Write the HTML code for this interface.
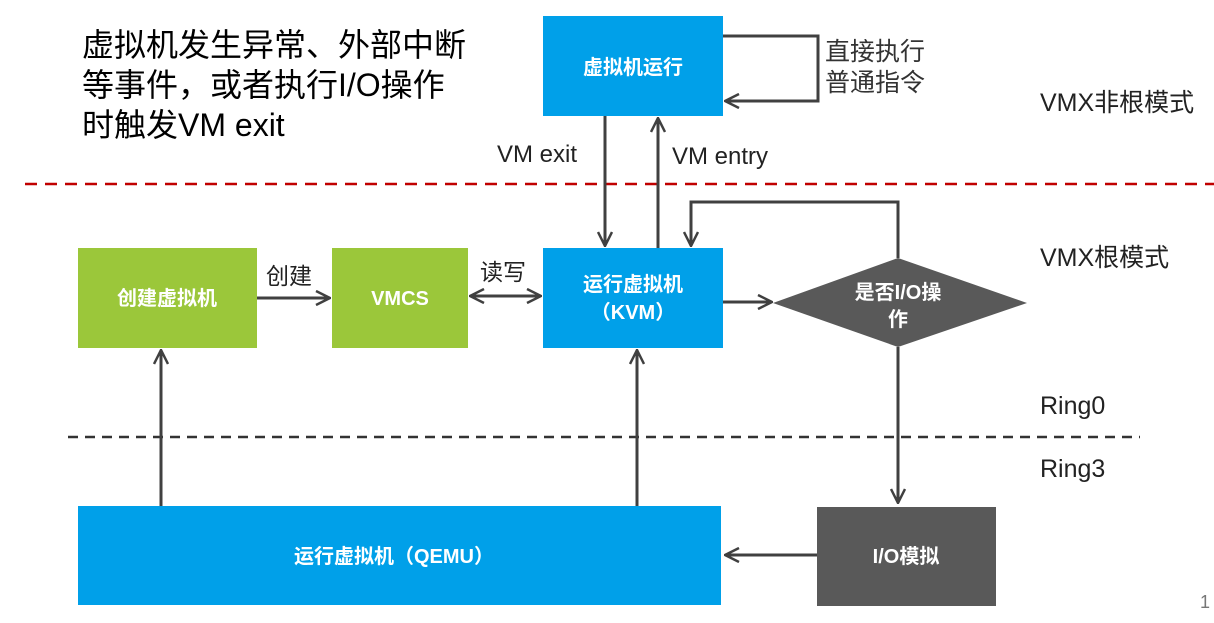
<!DOCTYPE html>
<html><head><meta charset="utf-8"><style>
html,body{margin:0;padding:0;background:#fff}
svg text{font-family:"Liberation Sans","Noto Sans CJK SC",sans-serif}
</style></head><body>
<svg width="1214" height="618" viewBox="0 0 1214 618" xmlns="http://www.w3.org/2000/svg">
<defs>
<marker id="a" viewBox="0 0 16 16" refX="15" refY="8" markerWidth="16" markerHeight="16" markerUnits="userSpaceOnUse" orient="auto-start-reverse">
<path d="M1,1 L15,8 L1,15" fill="none" stroke="#404040" stroke-width="2.5"/>
</marker>
</defs>
<g font-size="32" fill="#000">
<text x="82" y="56">虚拟机发生异常、外部中断</text>
<text x="82" y="96">等事件，或者执行I/O操作</text>
<text x="82" y="136">时触发VM exit</text>
</g>
<rect x="543" y="16" width="180" height="100" fill="#00a0e9"/>
<text x="633" y="74" font-size="20" font-weight="bold" fill="#fff" text-anchor="middle">虚拟机运行</text>
<path d="M723,36 H818 V101 H725" fill="none" stroke="#404040" stroke-width="3" marker-end="url(#a)"/>
<text x="825" y="60" font-size="25" fill="#333">直接执行</text>
<text x="825" y="91" font-size="25" fill="#333">普通指令</text>
<text x="1040" y="111" font-size="25" fill="#222">VMX非根模式</text>
<line x1="25" y1="184" x2="1214" y2="184" stroke="#c00000" stroke-width="2.5" stroke-dasharray="12,8"/>
<line x1="605" y1="116" x2="605" y2="246" stroke="#404040" stroke-width="3" marker-end="url(#a)"/>
<line x1="658" y1="248" x2="658" y2="118" stroke="#404040" stroke-width="3" marker-end="url(#a)"/>
<text x="497" y="162" font-size="24" fill="#222">VM exit</text>
<text x="672" y="164" font-size="24" fill="#222">VM entry</text>
<text x="1040" y="266" font-size="25" fill="#222">VMX根模式</text>
<rect x="78" y="248" width="179" height="100" fill="#9bc73a"/>
<text x="167" y="305" font-size="20" font-weight="bold" fill="#fff" text-anchor="middle">创建虚拟机</text>
<rect x="332" y="248" width="136" height="100" fill="#9bc73a"/>
<text x="400" y="305" font-size="20" font-weight="bold" fill="#fff" text-anchor="middle">VMCS</text>
<rect x="543" y="248" width="180" height="100" fill="#00a0e9"/>
<text x="633" y="291" font-size="20" font-weight="bold" fill="#fff" text-anchor="middle">运行虚拟机</text>
<text x="633" y="319" font-size="20" font-weight="bold" fill="#fff" text-anchor="middle">（KVM）</text>
<line x1="257" y1="298" x2="330" y2="298" stroke="#404040" stroke-width="3" marker-end="url(#a)"/>
<text x="266" y="284" font-size="23" fill="#222">创建</text>
<line x1="470" y1="296" x2="541" y2="296" stroke="#404040" stroke-width="3" marker-start="url(#a)" marker-end="url(#a)"/>
<text x="480" y="280" font-size="23" fill="#222">读写</text>
<polygon points="898,258 1027,303 898,347 773,303" fill="#595959"/>
<text x="898" y="299" font-size="20" font-weight="bold" fill="#fff" text-anchor="middle">是否I/O操</text>
<text x="898" y="326" font-size="20" font-weight="bold" fill="#fff" text-anchor="middle">作</text>
<line x1="723" y1="302" x2="772" y2="302" stroke="#404040" stroke-width="3" marker-end="url(#a)"/>
<path d="M898,258 V202 H691 V246" fill="none" stroke="#404040" stroke-width="3" marker-end="url(#a)"/>
<line x1="898" y1="347" x2="898" y2="503" stroke="#404040" stroke-width="3" marker-end="url(#a)"/>
<text x="1040" y="414" font-size="25" fill="#222">Ring0</text>
<line x1="68" y1="437" x2="1140" y2="437" stroke="#333" stroke-width="2.5" stroke-dasharray="10,7"/>
<text x="1040" y="477" font-size="25" fill="#222">Ring3</text>
<rect x="78" y="506" width="643" height="99" fill="#00a0e9"/>
<text x="394" y="563" font-size="20" font-weight="bold" fill="#fff" text-anchor="middle">运行虚拟机（QEMU）</text>
<rect x="817" y="507" width="179" height="99" fill="#595959"/>
<text x="906" y="563" font-size="20" font-weight="bold" fill="#fff" text-anchor="middle">I/O模拟</text>
<line x1="817" y1="555" x2="725" y2="555" stroke="#404040" stroke-width="3" marker-end="url(#a)"/>
<line x1="161" y1="506" x2="161" y2="350" stroke="#404040" stroke-width="3" marker-end="url(#a)"/>
<line x1="637" y1="506" x2="637" y2="350" stroke="#404040" stroke-width="3" marker-end="url(#a)"/>
<text x="1200" y="608" font-size="18" fill="#777">1</text>
</svg>
</body></html>
